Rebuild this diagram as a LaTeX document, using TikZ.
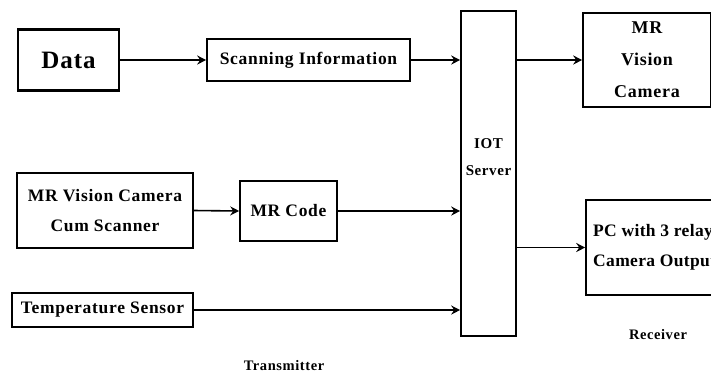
\documentclass[tikz,border=0pt]{standalone}
\usepackage{fontspec}
\setmainfont{Liberation Serif}[LetterSpace=4]
\usetikzlibrary{arrows.meta}
\begin{document}
\begin{tikzpicture}[x=1pt,y=-1pt,
  box/.style={draw,line width=1.6pt,inner sep=0pt,align=center,font=\bfseries\fontsize{17.5}{30}\selectfont},
  lbl/.style={inner sep=0pt,font=\bfseries\fontsize{14.5}{17}\selectfont},
  arr/.style={line width=1.6pt,-{Stealth[length=9pt,width=9pt,inset=3pt]}}]
\useasboundingbox (0,0) rectangle (711,373);
\clip (0,0) rectangle (711,373);
\node[box,line width=2.8pt,minimum width=101pt,minimum height=61pt,font=\bfseries\fontsize{25}{30}\selectfont] (data) at (68.5,60) {Data};
\node[box,minimum width=203pt,minimum height=42pt] (scan) at (308.5,60) {Scanning Information};
\node[box,minimum width=55pt,minimum height=325pt] (iot) at (488.5,173.5) {};
\node[lbl,align=center,font=\bfseries\fontsize{15}{27}\selectfont] (iottext) at (488.5,157) {IOT\\Server};
\node[box,minimum width=128pt,minimum height=94pt,font=\bfseries\fontsize{18}{32}\selectfont] (cam) at (647,60) {MR\\Vision\\Camera};
\node[box,minimum width=160pt,minimum height=95pt] (pc) at (666,247.5) {};
\node[lbl,anchor=west,align=left,font=\bfseries\fontsize{17.5}{30}\selectfont\addfontfeature{LetterSpace=2}] (pctext) at (593,247) {PC with 3 relay\\Camera Output};
\node[box,minimum width=176pt,minimum height=75pt] (cum) at (105,210.5) {MR Vision Camera\\Cum Scanner};
\node[box,minimum width=97pt,minimum height=60pt] (code) at (288.5,211) {MR Code};
\node[box,minimum width=181pt,minimum height=34pt] (temp) at (102.5,310) {Temperature Sensor};
\node[lbl] (tx) at (284,366) {Transmitter};
\node[lbl] (rx) at (658,335) {Receiver};
\draw[arr] (data.east) -- (scan.west);
\draw[arr] (scan.east) -- (scan.east -| iot.west);
\draw[arr] (iot.east |- cam.west) -- (cam.west);
\draw[arr] (iot.east |- pc.west) -- (pc.west);
\draw[arr] (cum.east) -- (code.west);
\draw[arr] (code.east) -- (code.east -| iot.west);
\draw[arr] (temp.east) -- (temp.east -| iot.west);
\end{tikzpicture}
\end{document}
